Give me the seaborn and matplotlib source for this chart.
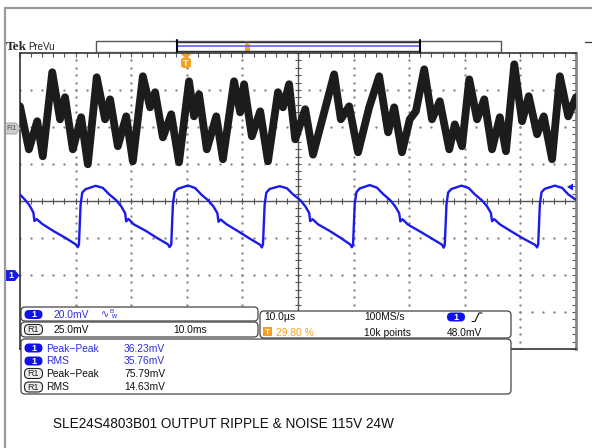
import numpy as np
import pandas as pd
import seaborn as sns
import matplotlib.pyplot as plt
from matplotlib.patches import FancyBboxPatch, Polygon, Rectangle

sns.set_style("white")
plt.rcParams['font.family'] = ['Liberation Sans', 'DejaVu Sans']

# channel 1 (blue), 20 mV/div, ground marker at -2 div, time in us
ch1_t = [0.0, 0.8, 1.7, 2.4, 2.6, 3.0, 4.0, 6.1, 8.1, 10.1, 10.4,
         10.6, 10.9, 11.2, 11.8, 13.6, 14.9, 16.0, 17.3, 18.2, 18.9, 19.1, 19.5, 20.5, 22.6, 24.6, 26.6, 26.9,
         27.2, 27.5, 27.8, 28.4, 30.2, 31.5, 32.6, 33.9, 34.8, 35.5, 35.7, 36.1, 37.1, 39.2, 41.2, 43.2, 43.5,
         43.7, 44.0, 44.3, 44.9, 46.7, 48.0, 49.1, 50.4, 51.3, 52.0, 52.2, 52.6, 53.6, 55.7, 57.7, 59.4, 59.7,
         59.9, 60.2, 60.5, 61.1, 62.9, 64.2, 65.3, 66.6, 67.5, 68.2, 68.4, 68.8, 69.8, 71.9, 73.9, 75.9, 76.2,
         76.4, 76.7, 77.0, 77.6, 79.4, 80.7, 81.8, 83.1, 84.0, 84.7, 84.9, 85.3, 86.3, 88.4, 90.4, 92.7, 93.0,
         93.2, 93.5, 93.8, 94.4, 96.2, 97.5, 98.6, 100.0]
ch1_mv = [43.5, 41.0, 37.7, 33.8, 29.2, 30.2, 27.6, 23.6, 20.2, 16.4, 15.0,
          16.5, 38.0, 44.6, 46.4, 48.2, 47.1, 43.7, 40.4, 37.1, 33.5, 29.0, 30.3, 27.3, 23.9, 20.1, 16.6, 15.1,
          16.4, 38.2, 44.8, 46.6, 48.4, 47.0, 43.5, 40.2, 37.0, 33.4, 28.8, 30.0, 27.5, 23.7, 19.9, 16.3, 14.9,
          16.6, 38.1, 44.5, 46.5, 48.0, 46.9, 43.6, 40.5, 37.2, 33.6, 29.1, 30.2, 27.4, 23.8, 20.0, 16.5, 15.0,
          16.5, 38.3, 44.7, 46.8, 48.6, 47.2, 43.8, 40.4, 37.0, 33.4, 29.0, 30.1, 27.2, 23.6, 20.0, 16.4, 14.8,
          16.3, 38.0, 44.6, 46.5, 48.3, 47.0, 43.6, 40.3, 37.1, 33.5, 29.1, 30.2, 27.4, 23.5, 19.9, 16.2, 14.9,
          16.5, 38.2, 44.8, 46.6, 48.3, 47.1, 43.6, 40.6]

# reference R1 (black), 25 mV/div, ground marker at +2 div
r1_t = [0.0, 1.6, 3.1, 4.1, 5.8, 7.2, 8.1, 9.5, 11.0, 12.2, 13.8, 15.3, 16.2, 17.6, 19.1,
        20.3, 22.1, 23.4, 24.3, 25.7, 27.2, 28.6, 30.4, 31.3, 32.2, 33.6, 35.3, 36.5, 38.5, 39.6,
        40.3, 41.7, 43.2, 44.6, 46.4, 47.3, 48.4, 49.5, 51.3, 52.7, 56.5, 57.7, 59.2, 60.8, 62.8,
        64.6, 66.2, 67.3, 68.7, 70.1, 71.2, 72.7, 74.1, 75.5, 77.2, 78.2, 79.5, 80.8, 82.2, 83.5,
        84.9, 86.3, 87.4, 88.9, 90.3, 91.5, 93.0, 94.2, 95.7, 97.1, 98.6, 100.0]
r1_mv = [14.0, -15.1, 3.9, -19.8, 37.0, 5.2, 20.1, -15.1, 6.6, -25.2, 33.6, 5.2, 18.7, -13.0, 7.2,
         -23.2, 34.3, 13.3, 23.5, -7.0, 8.6, -23.9, 30.9, 7.2, 22.1, -15.1, 7.2, -21.8, 30.9, 9.9,
         28.9, -6.3, 10.6, -23.2, 23.5, 13.3, 28.9, -8.3, 12.0, -18.7, 35.6, 5.2, 14.0, -17.1, 13.3,
         34.3, -3.6, 13.3, -17.1, 5.2, 10.6, 39.0, 5.2, 17.4, -15.1, 1.8, -13.0, 32.2, 5.2, 18.7,
         -15.1, 6.6, -16.4, 42.4, 3.9, 20.8, -4.9, 7.2, -21.8, 34.3, 7.2, 20.1]

ch1_scale, ch1_pos = 20.0, -2.0
r1_scale, r1_pos = 25.0, 2.0

ch1 = pd.DataFrame({'t': ch1_t, 'div': np.array(ch1_mv) / ch1_scale + ch1_pos})
r1 = pd.DataFrame({'t': r1_t, 'div': np.array(r1_mv) / r1_scale + r1_pos})

BLUE = '#1a1aea'
TXTBLUE = '#2e2ee0'
ORANGE = '#f5a020'

W, H = 592, 448
fig = plt.figure(figsize=(W / 100, H / 100), dpi=100)
ax = fig.add_axes([20 / W, 1 - 349 / H, 556 / W, 296 / H])

# graticule
minor_x = np.arange(0, 100.01, 2)
minor_y = np.arange(-4, 4.01, 0.2)
for gx in range(10, 100, 10):
    if gx != 50:
        ax.plot([gx] * len(minor_y), minor_y, ls='', marker='s', ms=0.7, color='#8a8a8a', zorder=1)
for gy in range(-3, 4):
    if gy != 0:
        ax.plot(minor_x, [gy] * len(minor_x), ls='', marker='s', ms=0.7, color='#8a8a8a', zorder=1)
ax.axhline(0, color='#555', lw=1.0, zorder=1)
ax.axvline(50, color='#555', lw=1.0, zorder=1)
ax.plot(minor_x, np.zeros(len(minor_x)), ls='', marker='|', ms=5, mew=0.8, color='#555', zorder=1)
ax.plot(np.full(len(minor_y), 50), minor_y, ls='', marker='_', ms=5, mew=0.8, color='#555', zorder=1)

sns.lineplot(data=r1, x='t', y='div', ax=ax, color='#1c1c1c', lw=5.6,
             solid_joinstyle='round', solid_capstyle='round',
             sort=False, estimator=None, zorder=3)
sns.lineplot(data=ch1, x='t', y='div', ax=ax, color=BLUE, lw=1.7,
             sort=False, estimator=None, zorder=4)

ax.set_xlim(0, 100)
ax.set_ylim(-4, 4)
ax.set_xticks(minor_x)
ax.set_yticks(minor_y)
ax.tick_params(direction='in', length=3, width=0.8, colors='#555', top=True, right=True,
               labelbottom=False, labelleft=False)
ax.set_xlabel('')
ax.set_ylabel('')
for s in ['top', 'left', 'bottom']:
    ax.spines[s].set_color('#333')
    ax.spines[s].set_linewidth(1.2)
ax.spines['right'].set_color('#888')
ax.spines['right'].set_linewidth(2)

# overlay in pixel coordinates
ov = fig.add_axes([0, 0, 1, 1])
ov.set_xlim(0, W)
ov.set_ylim(H, 0)
ov.axis('off')
ov.patch.set_alpha(0)

ov.plot([5, 5], [8, H], color='#9a9a9a', lw=1.6)
ov.plot([5, W], [8, 8], color='#9a9a9a', lw=1.6)
ov.plot([585, W], [42, 42], color='#333', lw=0.9)

ov.text(6, 47, 'Tek', family=['Liberation Serif'], weight='bold', fontsize=9.5, va='center')
ov.text(28, 46.5, 'PreVu', fontsize=7, va='center', color='#222')

# record bar
ov.add_patch(Rectangle((96, 41), 405, 11, fc='white', ec='#555', lw=1))
ov.plot([177, 420], [41.6, 41.6], color='#333', lw=1)
ov.plot([177, 420], [51.4, 51.4], color='#333', lw=1)
ov.plot([177, 420], [46.5, 46.5], color='#6060f0', lw=1.2)
ov.plot([177, 177], [40.5, 52.5], color='k', lw=1.5)
ov.plot([420, 420], [40.5, 52.5], color='k', lw=1.5)
ov.add_patch(Rectangle((244.5, 44), 5, 7.5, fc=ORANGE, ec='none'))
ov.add_patch(Polygon([(244, 41.5), (250, 41.5), (247, 44)], fc=ORANGE, ec='none'))

# trigger position marker
ov.add_patch(Polygon([(180.5, 54), (191.5, 54), (186, 58.5)], fc=ORANGE, ec='none'))
ov.add_patch(FancyBboxPatch((181, 57.5), 10, 10.5, boxstyle='round,pad=0,rounding_size=3',
                            fc=ORANGE, ec='none'))
ov.text(186, 63, 'T', color='white', fontsize=6.5, weight='bold', ha='center', va='center')

# channel markers
ov.add_patch(Polygon([(5, 123), (16, 123), (20, 128.5), (16, 134), (5, 134)],
                     fc='#cfcfcf', ec='#999', lw=0.6))
ov.text(11.5, 128.7, 'R1', fontsize=6, color='#555', ha='center', va='center')
ov.add_patch(Polygon([(5, 270), (15, 270), (19.5, 275.5), (15, 281), (5, 281)],
                     fc=BLUE, ec='none'))
ov.text(11, 275.7, '1', fontsize=6.5, color='white', weight='bold', ha='center', va='center')
ov.add_patch(Polygon([(567, 187), (573, 183.5), (573, 190.5)], fc=BLUE, ec='none'))


def panel(x0, y0, x1, y1):
    ov.add_patch(FancyBboxPatch((x0, y0), x1 - x0, y1 - y0,
                                boxstyle='round,pad=0,rounding_size=4',
                                fc='white', ec='#444', lw=0.9))


def pill(x, y):
    ov.add_patch(FancyBboxPatch((x, y - 4.5), 18, 9, boxstyle='round,pad=0,rounding_size=4.5',
                                fc='#1010e8', ec='none'))
    ov.text(x + 9, y + 0.3, '1', fontsize=6.5, color='white', weight='bold',
            ha='center', va='center')


def r1_icon(x, y):
    ov.add_patch(FancyBboxPatch((x, y - 5), 18, 10, boxstyle='round,pad=0,rounding_size=4.5',
                                fc='#eeeeee', ec='#222', lw=0.8))
    ov.text(x + 9, y + 0.3, 'R1', fontsize=6.5, color='#222', ha='center', va='center')


FS = 7.4
panel(21, 307, 258, 321)
panel(21, 322, 258, 337)
panel(260, 311, 511, 338)
panel(21, 339, 511, 394)

pill(24.5, 314.5)
ov.text(54, 315, '20.0mV', fontsize=FS, color=TXTBLUE, va='center')
ov.text(101, 314, '\u223f', family=['DejaVu Sans'], fontsize=7, color=TXTBLUE, va='center')
ov.text(109.5, 311.5, 'B', fontsize=4.5, color=TXTBLUE, va='center')
ov.text(111.5, 316.5, 'w', fontsize=5, color=TXTBLUE, va='center')

r1_icon(24.5, 329.5)
ov.text(54, 330, '25.0mV', fontsize=FS, color='#111', va='center')
ov.text(173, 330, '10.0ms', fontsize=FS, color='#111', va='center')

ov.text(264, 317.5, '10.0\u00b5s', fontsize=FS, color='#111', va='center')
ov.text(364, 317.5, '100MS/s', fontsize=FS, color='#111', va='center')
pill(447, 317)
ov.plot([472, 475, 479, 482], [321.5, 321.5, 313, 313], color='#111', lw=0.8)
ov.add_patch(Rectangle((263, 327.5), 8.5, 9, fc=ORANGE, ec='none'))
ov.text(267.3, 332.3, 'T', fontsize=6, color='white', weight='bold', ha='center', va='center')
ov.text(276, 332.5, '29.80 %', fontsize=FS, color=ORANGE, va='center')
ov.text(364, 332.5, '10k points', fontsize=FS, color='#111', va='center')
ov.text(447, 332.5, '48.0mV', fontsize=FS, color='#111', va='center')

meas_names = ['Peak\u2212Peak', 'RMS', 'Peak\u2212Peak', 'RMS']
meas_vals = ['36.23mV', '35.76mV', '75.79mV', '14.63mV']
meas_src = ['1', '1', 'R1', 'R1']
row_y = [348, 361, 373.5, 387]
for name, val, src, y in zip(meas_names, meas_vals, meas_src, row_y):
    col = TXTBLUE if src == '1' else '#111'
    if src == '1':
        pill(24.5, y)
    else:
        r1_icon(24.5, y)
    ov.text(46, y + 0.5, name, fontsize=FS, color=col, va='center')
    ov.text(124, y + 0.5, val, fontsize=FS, color=col, va='center')

ov.text(53, 423.5, 'SLE24S4803B01 OUTPUT RIPPLE & NOISE 115V 24W', fontsize=9.8,
        color='#111', va='center')

fig.savefig('out.png', dpi=100)
